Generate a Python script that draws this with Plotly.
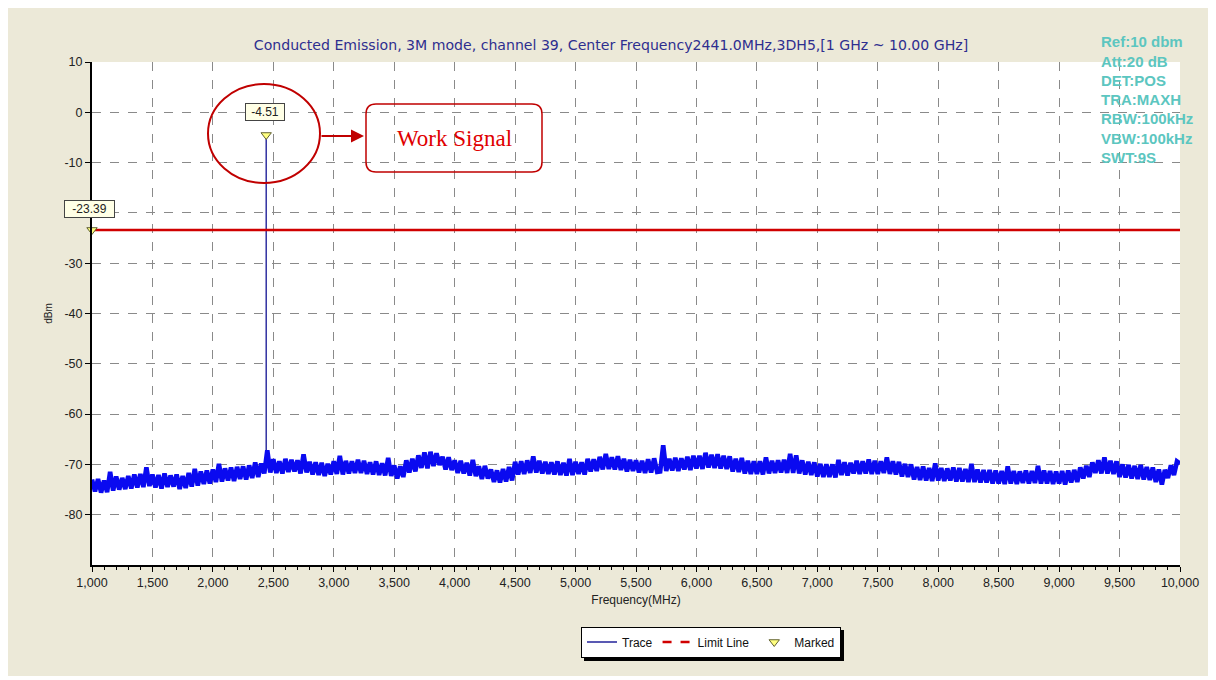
import plotly.graph_objects as go

# ---------------- data ----------------
title_text = ("Conducted Emission, 3M mode, channel 39, Center Frequency2441.0MHz,"
              "3DH5,[1 GHz ~ 10.00 GHz]")
settings_lines = ["Ref:10 dbm", "Att:20 dB", "DET:POS", "TRA:MAXH",
                  "RBW:100kHz", "VBW:100kHz", "SWT:9S"]
x_ticks = [1000, 1500, 2000, 2500, 3000, 3500, 4000, 4500, 5000, 5500,
           6000, 6500, 7000, 7500, 8000, 8500, 9000, 9500, 10000]
y_ticks = [10, 0, -10, -20, -30, -40, -50, -60, -70, -80]
y_hidden_label = -20      # covered by the -23.39 marker box in the original

start_mhz = 1000
step_mhz = 25
# trace level (dBm) every 25 MHz, one row per 100 MHz
trace_dbm = [
    -73.0, -75.4, -72.9, -75.6,   # 1000
    -73.2, -75.5, -71.5, -75.2,   # 1100
    -72.4, -75.0, -72.7, -74.9,   # 1200
    -72.3, -74.8, -72.0, -74.6,   # 1300
    -71.9, -74.5, -70.6, -74.3,   # 1400
    -72.0, -74.6, -72.1, -74.8,   # 1500
    -71.8, -74.5, -72.2, -74.4,   # 1600
    -72.0, -74.9, -72.3, -74.7,   # 1700
    -71.7, -74.4, -70.9, -74.2,   # 1800
    -71.4, -73.9, -71.2, -73.8,   # 1900
    -71.0, -73.5, -69.9, -73.4,   # 2000
    -70.8, -73.2, -70.6, -73.3,   # 2100
    -70.5, -72.9, -70.4, -73.0,   # 2200
    -70.2, -72.7, -69.6, -72.5,   # 2300
    -69.8, -71.8, -67.2, -71.6,   # 2400
    -69.0, -71.7, -69.4, -71.8,   # 2500
    -68.9, -71.5, -69.1, -71.4,   # 2600
    -69.2, -71.8, -68.0, -71.6,   # 2700
    -69.5, -72.0, -69.6, -72.1,   # 2800
    -69.7, -72.3, -69.9, -72.0,   # 2900
    -69.4, -71.9, -68.3, -72.0,   # 3000
    -69.3, -71.8, -69.4, -71.7,   # 3100
    -69.1, -71.7, -69.3, -71.9,   # 3200
    -69.6, -72.0, -69.4, -72.1,   # 3300
    -69.8, -72.2, -68.7, -72.3,   # 3400
    -70.2, -72.8, -70.4, -72.5,   # 3500
    -69.2, -71.6, -68.9, -71.4,   # 3600
    -68.2, -70.7, -67.6, -70.8,   # 3700
    -67.5, -70.3, -67.8, -70.1,   # 3800
    -68.5, -71.0, -68.6, -71.1,   # 3900
    -69.2, -71.7, -69.3, -71.8,   # 4000
    -69.7, -72.2, -69.1, -72.3,   # 4100
    -70.4, -72.9, -70.3, -72.8,   # 4200
    -71.0, -73.5, -71.2, -73.6,   # 4300
    -70.9, -73.4, -70.5, -73.2,   # 4400
    -69.5, -72.0, -69.4, -71.9,   # 4500
    -69.2, -71.7, -68.4, -71.6,   # 4600
    -69.3, -71.8, -69.5, -71.9,   # 4700
    -69.6, -72.0, -69.4, -72.1,   # 4800
    -69.7, -72.2, -68.9, -72.1,   # 4900
    -69.5, -71.9, -69.6, -72.0,   # 5000
    -68.9, -71.4, -69.0, -71.3,   # 5100
    -68.5, -71.0, -67.9, -70.9,   # 5200
    -68.6, -71.0, -68.4, -71.1,   # 5300
    -68.9, -71.4, -69.1, -71.3,   # 5400
    -69.2, -71.6, -69.3, -71.7,   # 5500
    -69.0, -71.6, -68.8, -71.5,   # 5600
    -71.4, -66.2, -71.3, -68.9,   # 5700
    -71.2, -68.7, -71.3, -68.8,   # 5800
    -71.0, -68.5, -71.1, -68.3,   # 5900
    -70.8, -68.3, -70.9, -67.7,   # 6000
    -70.6, -68.1, -70.7, -68.0,   # 6100
    -70.8, -68.3, -70.9, -68.4,   # 6200
    -71.4, -68.9, -71.5, -68.7,   # 6300
    -71.8, -69.3, -71.9, -69.4,   # 6400
    -71.9, -69.4, -72.0, -68.6,   # 6500
    -71.8, -69.3, -71.7, -69.2,   # 6600
    -71.6, -69.1, -71.7, -67.9,   # 6700
    -71.7, -68.2, -71.8, -69.2,   # 6800
    -72.0, -69.5, -72.1, -69.6,   # 6900
    -72.4, -69.9, -72.5, -70.0,   # 7000
    -72.5, -70.0, -72.6, -69.1,   # 7100
    -72.1, -69.6, -72.2, -69.7,   # 7200
    -71.8, -69.3, -71.9, -69.4,   # 7300
    -71.8, -69.0, -71.9, -69.3,   # 7400
    -71.9, -69.4, -71.7, -68.6,   # 7500
    -71.9, -69.4, -72.0, -69.5,   # 7600
    -72.4, -69.9, -72.5, -70.0,   # 7700
    -73.0, -70.5, -73.1, -70.4,   # 7800
    -73.2, -70.7, -73.3, -69.8,   # 7900
    -73.2, -70.7, -73.3, -70.8,   # 8000
    -73.2, -70.6, -73.4, -70.7,   # 8100
    -73.4, -70.9, -73.5, -69.9,   # 8200
    -73.5, -71.0, -73.6, -71.1,   # 8300
    -73.6, -71.1, -73.8, -71.2,   # 8400
    -73.8, -71.3, -73.9, -70.4,   # 8500
    -73.8, -71.3, -73.9, -71.4,   # 8600
    -73.7, -71.2, -73.8, -71.3,   # 8700
    -73.7, -70.3, -73.8, -71.2,   # 8800
    -73.8, -71.3, -73.9, -71.4,   # 8900
    -73.8, -71.3, -74.0, -71.2,   # 9000
    -73.6, -71.1, -73.5, -70.6,   # 9100
    -72.8, -70.3, -72.5, -69.6,   # 9200
    -71.7, -69.2, -71.8, -68.6,   # 9300
    -71.8, -69.3, -71.9, -69.4,   # 9400
    -72.5, -70.0, -72.6, -70.1,   # 9500
    -72.8, -70.3, -72.9, -70.1,   # 9600
    -73.0, -70.5, -73.1, -70.6,   # 9700
    -73.5, -71.0, -74.0, -71.1,   # 9800
    -72.7, -70.2, -72.1, -69.4,   # 9900
    -69.8,                        # 10000
]
peak_mhz = 2441.0
peak_dbm = -4.51
limit_dbm = -23.39
marked_mhz = [1000, 2441.0]
marked_dbm = [-23.39, -4.51]
marked_labels = ["-23.39", "-4.51"]

# ---------------- build ----------------
freqs = [start_mhz + step_mhz * i for i in range(len(trace_dbm))]
i_hi = min(i for i, f in enumerate(freqs) if f > peak_mhz)
peak_x = [peak_mhz, peak_mhz]
peak_y = [trace_dbm[i_hi], peak_dbm]

W, H = 1202, 668          # page draws the figure at an (8, 8) offset
OX, OY = 8, 8
PLOT_L, PLOT_R, PLOT_T, PLOT_B = 92, 1180, 62, 565   # screen pixels of plot box
PW, PH = PLOT_R - PLOT_L, PLOT_B - PLOT_T
L, T = PLOT_L - OX, PLOT_T - OY
R, B = W - L - PW, H - T - PH


def px(xs):
    return (xs - PLOT_L) / PW


def py(ys):
    return (PLOT_B - ys) / PH


fig = go.Figure()
fig.add_trace(go.Scatter(x=peak_x, y=peak_y, mode="lines", name="Trace",
                         legendgroup="trace",
                         line=dict(color="#22229A", width=1.4)))
fig.add_trace(go.Scatter(x=freqs, y=trace_dbm, mode="lines", name="Trace",
                         legendgroup="trace", showlegend=False,
                         line=dict(color="#0A0AF0", width=4.6)))
fig.add_trace(go.Scatter(x=[x_ticks[0], x_ticks[-1]], y=[limit_dbm, limit_dbm],
                         mode="lines", showlegend=False, name="Limit Line",
                         legendgroup="limit",
                         line=dict(color="#D00000", width=2.5)))
fig.add_trace(go.Scatter(x=[None], y=[None], mode="lines", name="Limit Line",
                         legendgroup="limit",
                         line=dict(color="#D00000", width=2.5, dash="dash")))
fig.add_trace(go.Scatter(x=marked_mhz, y=marked_dbm, mode="markers", name="Marked",
                         cliponaxis=False,
                         marker=dict(symbol="triangle-down", size=9, color="#FFFF80",
                                     line=dict(color="#606030", width=1))))

lab_font = dict(family="Liberation Sans, Arial", size=12, color="#222")
annotations = []
# marker labels
annotations.append(dict(x=marked_mhz[1], y=marked_dbm[1], xref="x", yref="y",
                        text=marked_labels[1], showarrow=False, yshift=23, xshift=-1,
                        width=36, height=14,
                        bgcolor="#FFFFE6", bordercolor="#444444", borderwidth=1,
                        borderpad=1, font=lab_font))
annotations.append(dict(x=marked_mhz[0], y=marked_dbm[0], xref="x", yref="y",
                        text=marked_labels[0], showarrow=False, yshift=21, xshift=-3,
                        width=47, height=14,
                        bgcolor="#FFFFE6", bordercolor="#444444", borderwidth=1,
                        borderpad=1, font=lab_font))
# settings text
for i, s in enumerate(settings_lines):
    annotations.append(dict(x=px(1099), y=py(42 + 19.2 * i), xref="paper", yref="paper",
                            xanchor="left", yanchor="middle", showarrow=False, text=s,
                            font=dict(family="Liberation Sans, Arial", size=15,
                                      color="#5CC6C0", weight="bold")))
# work signal callout
annotations.append(dict(x=px(454), y=py(139), xref="paper", yref="paper",
                        xanchor="center", yanchor="middle",
                        text="Work Signal", showarrow=False,
                        font=dict(family="Liberation Serif, Times New Roman", size=23,
                                  color="#E00000")))
annotations.append(dict(x=px(364), y=py(136), xref="paper", yref="paper", text="",
                        showarrow=True, ax=-44, ay=0, arrowhead=2, arrowsize=1.3,
                        arrowwidth=2, arrowcolor="#C00000"))

# rounded rect path
x0, x1, y0, y1, r = 366, 542, 104, 172, 10


def P(a, b):
    return f"{px(a):.5f},{py(b):.5f}"


rr = (f"M {P(x0 + r, y0)} L {P(x1 - r, y0)} Q {P(x1, y0)} {P(x1, y0 + r)} "
      f"L {P(x1, y1 - r)} Q {P(x1, y1)} {P(x1 - r, y1)} L {P(x0 + r, y1)} "
      f"Q {P(x0, y1)} {P(x0, y1 - r)} L {P(x0, y0 + r)} Q {P(x0, y0)} {P(x0 + r, y0)} Z")

shapes = [
    dict(type="circle", xref="paper", yref="paper", x0=px(208), x1=px(320),
         y0=py(183), y1=py(84), line=dict(color="#C00000", width=2)),
    dict(type="path", xref="paper", yref="paper", path=rr,
         line=dict(color="#C00000", width=1.5)),
    # legend drop shadow
    dict(type="rect", xref="paper", yref="paper", x0=px(584), x1=px(844),
         y0=py(661), y1=py(630), fillcolor="black", line=dict(width=0), layer="above"),
]

fig.update_layout(
    width=W, height=H,
    margin=dict(l=L, r=R, t=T, b=B, pad=0),
    paper_bgcolor="#ECE9D8", plot_bgcolor="white",
    font=dict(family="Liberation Sans, Arial", size=12, color="#222222"),
    title=dict(text=title_text, x=(611 - OX) / W, xref="container", xanchor="center",
               y=1 - (45 - OY) / H, yref="container", yanchor="middle",
               font=dict(family="DejaVu Sans, Verdana", size=14.1, color="#2E2E8F")),
    showlegend=True,
    legend=dict(orientation="h", x=px(711), y=py(642), xanchor="center", yanchor="middle",
                bgcolor="white", bordercolor="black", borderwidth=1,
                font=dict(size=12, color="#111"), itemwidth=30,
                traceorder="normal"),
    annotations=annotations, shapes=shapes,
)
fig.update_xaxes(range=[x_ticks[0], x_ticks[-1]], tickvals=x_ticks,
                 ticktext=[f"{v:,}" for v in x_ticks],
                 showline=True, linecolor="black", linewidth=2, ticks="outside",
                 ticklen=5, tickcolor="black", showgrid=True, gridcolor="#8A8A8A",
                 griddash="dash", gridwidth=1, zeroline=False,
                 tickfont=dict(size=12.5, color="#222"),
                 minor=dict(dtick=100, ticks="outside", ticklen=3, tickcolor="black",
                            showgrid=False),
                 title=dict(text="Frequency(MHz)", standoff=7,
                            font=dict(size=12, color="#222")))
fig.update_yaxes(range=[-90, 10], tickvals=y_ticks,
                 ticktext=["" if v == y_hidden_label else str(v) for v in y_ticks],
                 showline=True, linecolor="black",
                 linewidth=2, ticks="outside", ticklen=5, tickcolor="black",
                 showgrid=True, gridcolor="#8A8A8A", griddash="dash", gridwidth=1,
                 zeroline=False, tickfont=dict(size=12.5, color="#222"),
                 title=dict(text="dBm", standoff=10, font=dict(size=10, color="#222")))

fig.write_html("out.html")
